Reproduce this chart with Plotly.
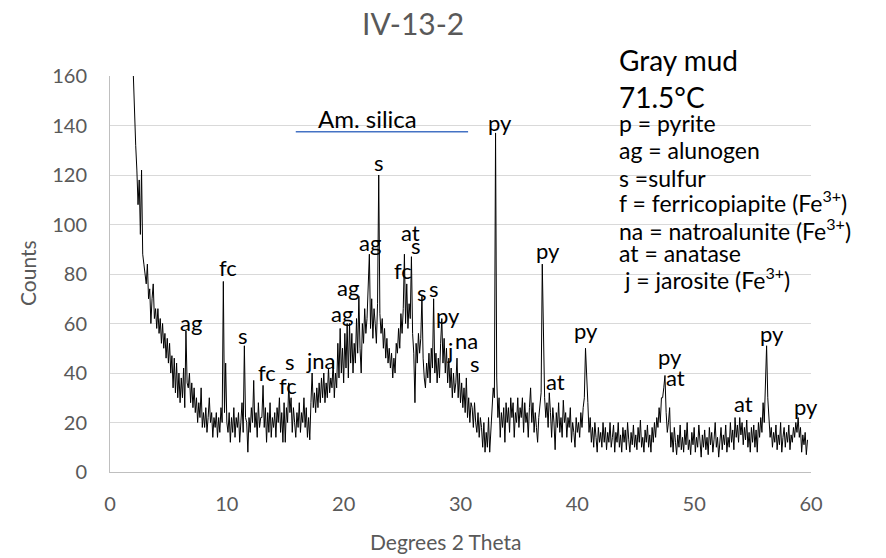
import plotly.graph_objects as go

# ---------------- data (counts, 0.1 deg 2-theta steps) -------------
TWO_THETA_START = 2.0
TWO_THETA_STEP = 0.1

counts_02_09 = [
    160, 140, 132, 122, 108, 118, 96, 122, 88, 84,
    80, 76, 84, 70, 74, 60, 70, 76, 62, 66,
    58, 66, 56, 62, 52, 60, 50, 56, 46, 54,
    44, 52, 40, 47, 34, 46, 32, 44, 30, 40,
    28, 38, 30, 42, 26, 57, 36, 34, 40, 28,
    36, 26, 34, 24, 30, 20, 28, 22, 34, 18,
    24, 18, 26, 16, 22, 30, 20, 24, 14, 22,
    18, 24, 14, 22, 16, 26, 20, 77, 24, 44,
]
counts_10_19 = [
    20, 16, 24, 12, 22, 16, 26, 14, 22, 18,
    24, 12, 20, 28, 16, 51, 22, 20, 8, 22,
    16, 26, 20, 37, 18, 24, 14, 28, 18, 22,
    22, 35, 18, 26, 12, 24, 16, 28, 14, 22,
    18, 24, 14, 26, 20, 30, 16, 24, 12, 28,
    12, 26, 20, 36, 24, 30, 16, 26, 20, 14,
    24, 18, 28, 16, 24, 20, 30, 18, 26, 14,
    22, 13, 28, 40, 26, 32, 24, 34, 26, 36,
    28, 38, 30, 40, 28, 36, 30, 42, 32, 38,
    34, 45, 30, 40, 34, 52, 38, 58, 40, 50,
]
counts_20_29 = [
    36, 56, 42, 60, 38, 60, 44, 56, 40, 52,
    44, 62, 48, 71, 50, 40, 60, 52, 66, 56,
    62, 72, 88, 58, 70, 54, 66, 60, 52, 68,
    120, 64, 56, 62, 50, 58, 46, 54, 44, 50,
    42, 48, 38, 46, 40, 52, 48, 58, 50, 64,
    56, 66, 88, 60, 76, 58, 68, 62, 87, 56,
    48, 28, 52, 44, 56, 48, 54, 71, 46, 38,
    34, 44, 38, 48, 36, 50, 42, 70, 40, 48,
    36, 46, 38, 52, 62, 44, 54, 40, 50, 36,
    46, 34, 42, 30, 40, 32, 36, 46, 30, 40,
]
counts_30_39 = [
    28, 36, 26, 34, 24, 38, 22, 30, 20, 28,
    26, 18, 28, 20, 16, 24, 14, 22, 18, 10,
    20, 8, 16, 10, 22, 8, 18, 26, 34, 30,
    137, 38, 22, 30, 14, 24, 18, 26, 12, 28,
    20, 26, 16, 30, 22, 28, 14, 24, 20, 30,
    18, 26, 22, 30, 16, 28, 20, 24, 14, 26,
    34, 20, 28, 16, 24, 18, 12, 22, 26, 32,
    84, 46, 30, 22, 28, 18, 32, 24, 14, 26,
    20, 9, 24, 18, 28, 16, 22, 14, 29, 20,
    24, 14, 22, 18, 26, 12, 20, 16, 10, 22,
]
counts_40_49 = [
    16, 20, 14, 24, 18, 26, 30, 50, 34, 28,
    16, 22, 12, 18, 10, 20, 14, 8, 18, 12,
    16, 10, 20, 12, 18, 9, 16, 12, 20, 10,
    14, 19, 8, 16, 12, 20, 10, 15, 8, 18,
    12, 17, 9, 20, 13, 8, 16, 11, 19, 10,
    15, 9, 18, 12, 21, 10, 14, 8, 17, 12,
    19, 10, 15, 8, 18, 12, 20, 14, 22, 18,
    26, 20, 30, 30, 34, 39, 24, 16, 20, 26,
    10, 16, 8, 18, 12, 7, 15, 10, 19, 9,
    14, 8, 17, 11, 20, 9, 13, 7, 16, 11,
]
counts_50_59 = [
    18, 8, 14, 10, 19, 12, 6, 15, 10, 17,
    9, 14, 7, 18, 11, 16, 8, 13, 20, 10,
    14, 6, 12, 18, 9, 15, 11, 19, 8, 14,
    10, 20, 12, 17, 9, 22, 14, 19, 12, 22,
    15, 20, 11, 18, 13, 21, 10, 16, 8, 18,
    12, 19, 10, 17, 8, 20, 14, 22, 16, 28,
    20, 36, 51, 30, 22, 14, 18, 10, 16, 12,
    19, 9, 15, 11, 20, 8, 14, 18, 10, 16,
    12, 19, 9, 15, 12, 18, 14, 20, 16, 22,
    14, 18, 8, 15, 11, 16, 7, 13,
]

counts = counts_02_09 + counts_10_19 + counts_20_29 + counts_30_39 + counts_40_49 + counts_50_59
two_theta = [round(TWO_THETA_START + TWO_THETA_STEP * i, 2) for i in range(len(counts))]

# peak labels (text, 2-theta, counts position of the label)
peak_text = ["ag", "fc", "s", "fc", "s", "fc", "jna", "ag", "ag", "ag", "s", "at", "s", "fc",
             "s", "s", "py", "j", "na", "s", "py", "py", "at", "py", "py", "at", "at", "py", "py"]
peak_x = [6.9, 10.13, 11.4, 13.4, 15.4, 15.2, 18.1, 19.84, 20.4, 22.26, 23.0, 25.7, 26.2, 25.1,
          26.7, 27.7, 28.97, 29.1, 30.5, 31.25, 33.4, 37.5, 38.1, 40.75, 47.95, 48.4, 54.2, 56.65, 59.6]
peak_y = [60.6, 82.8, 55.2, 40.4, 44.5, 35.0, 45.2, 64.0, 74.7, 92.9, 125.0, 96.9, 91.5, 81.5,
          72.7, 74.0, 63.3, 49.2, 53.2, 43.8, 141.3, 89.5, 36.4, 57.3, 46.5, 38.3, 27.7, 55.9, 26.3]

legend_big = ["Gray mud", "71.5°C"]
legend_small = ["p = pyrite", "ag = alunogen", "s =sulfur",
                "f = ferricopiapite (Fe<sup>3+</sup>)", "na = natroalunite (Fe<sup>3+</sup>)",
                "at = anatase", " j = jarosite (Fe<sup>3+</sup>)"]

silica_label = "Am. silica"
silica_label_x = 22.0
silica_label_y = 142.7
silica_range = [15.9, 30.65]
silica_level = 137.5

x_ticks = [0, 10, 20, 30, 40, 50, 60]
y_ticks = [0, 20, 40, 60, 80, 100, 120, 140, 160]

# ---------------- figure ----------------
FONT = "Lato"
GRAY = "#595959"

W, H = 886, 558
L, R, T, B = 110, 75, 76, 86
pw, ph = W - L - R, H - T - B


def px_to_paper(px, py):
    return (px - L) / pw, (H - B - py) / ph


fig = go.Figure()
fig.add_trace(go.Scatter(x=two_theta, y=counts, mode="lines",
                         line=dict(color="black", width=1), hoverinfo="skip",
                         showlegend=False))

annotations = []
for t, x, y in zip(peak_text, peak_x, peak_y):
    annotations.append(dict(x=x, y=y, xref="x", yref="y", text=t, showarrow=False,
                            xanchor="center", yanchor="middle",
                            font=dict(family=FONT, size=22, color="black")))

annotations.append(dict(x=silica_label_x, y=silica_label_y, xref="x", yref="y",
                        text=silica_label, showarrow=False, xanchor="center", yanchor="middle",
                        font=dict(family=FONT, size=24, color="black")))

legend_left_px = 617
for txt, py in zip(legend_big, [60, 97]):
    xp, yp = px_to_paper(legend_left_px, py)
    annotations.append(dict(x=xp, y=yp, xref="paper", yref="paper", text=txt, showarrow=False,
                            xanchor="left", yanchor="middle",
                            font=dict(family=FONT, size=28, color="black")))
for txt, py in zip(legend_small, [123, 150, 178, 201, 229, 253, 278]):
    xp, yp = px_to_paper(legend_left_px, py)
    annotations.append(dict(x=xp, y=yp, xref="paper", yref="paper", text=txt, showarrow=False,
                            xanchor="left", yanchor="middle",
                            font=dict(family=FONT, size=23, color="black")))

# title and axis titles
xp, yp = px_to_paper(413, 23)
annotations.append(dict(x=xp, y=yp, xref="paper", yref="paper", text="IV-13-2", showarrow=False,
                        xanchor="center", yanchor="middle",
                        font=dict(family=FONT, size=30, color=GRAY)))
xp, yp = px_to_paper(446, 541)
annotations.append(dict(x=xp, y=yp, xref="paper", yref="paper", text="Degrees 2 Theta",
                        showarrow=False, xanchor="center", yanchor="middle",
                        font=dict(family=FONT, size=21, color=GRAY)))
xp, yp = px_to_paper(27, 273)
annotations.append(dict(x=xp, y=yp, xref="paper", yref="paper", text="Counts", textangle=-90,
                        showarrow=False, xanchor="center", yanchor="middle",
                        font=dict(family=FONT, size=21, color=GRAY)))

fig.add_shape(type="line", xref="x", yref="y", x0=silica_range[0], x1=silica_range[1],
              y0=silica_level, y1=silica_level, line=dict(color="#4472C4", width=1.5))

fig.update_layout(
    width=W, height=H, autosize=False,
    margin=dict(l=L, r=R, t=T, b=B),
    paper_bgcolor="white", plot_bgcolor="white",
    annotations=annotations,
    xaxis=dict(range=[0, 60], tickvals=x_ticks, ticktext=[str(v) for v in x_ticks],
               showgrid=False, zeroline=False, showline=True, linecolor="#BFBFBF", linewidth=1,
               ticks="outside", ticklen=14, tickcolor="rgba(0,0,0,0)",
               tickfont=dict(family=FONT, size=20, color=GRAY)),
    yaxis=dict(range=[0, 160], tickvals=y_ticks, ticktext=[str(v) for v in y_ticks],
               showgrid=True, gridcolor="#D9D9D9", gridwidth=1, zeroline=False,
               showline=True, linecolor="#BFBFBF", linewidth=1,
               ticks="outside", ticklen=18, tickcolor="rgba(0,0,0,0)",
               tickfont=dict(family=FONT, size=20, color=GRAY)),
)

fig.write_html("out.html")
